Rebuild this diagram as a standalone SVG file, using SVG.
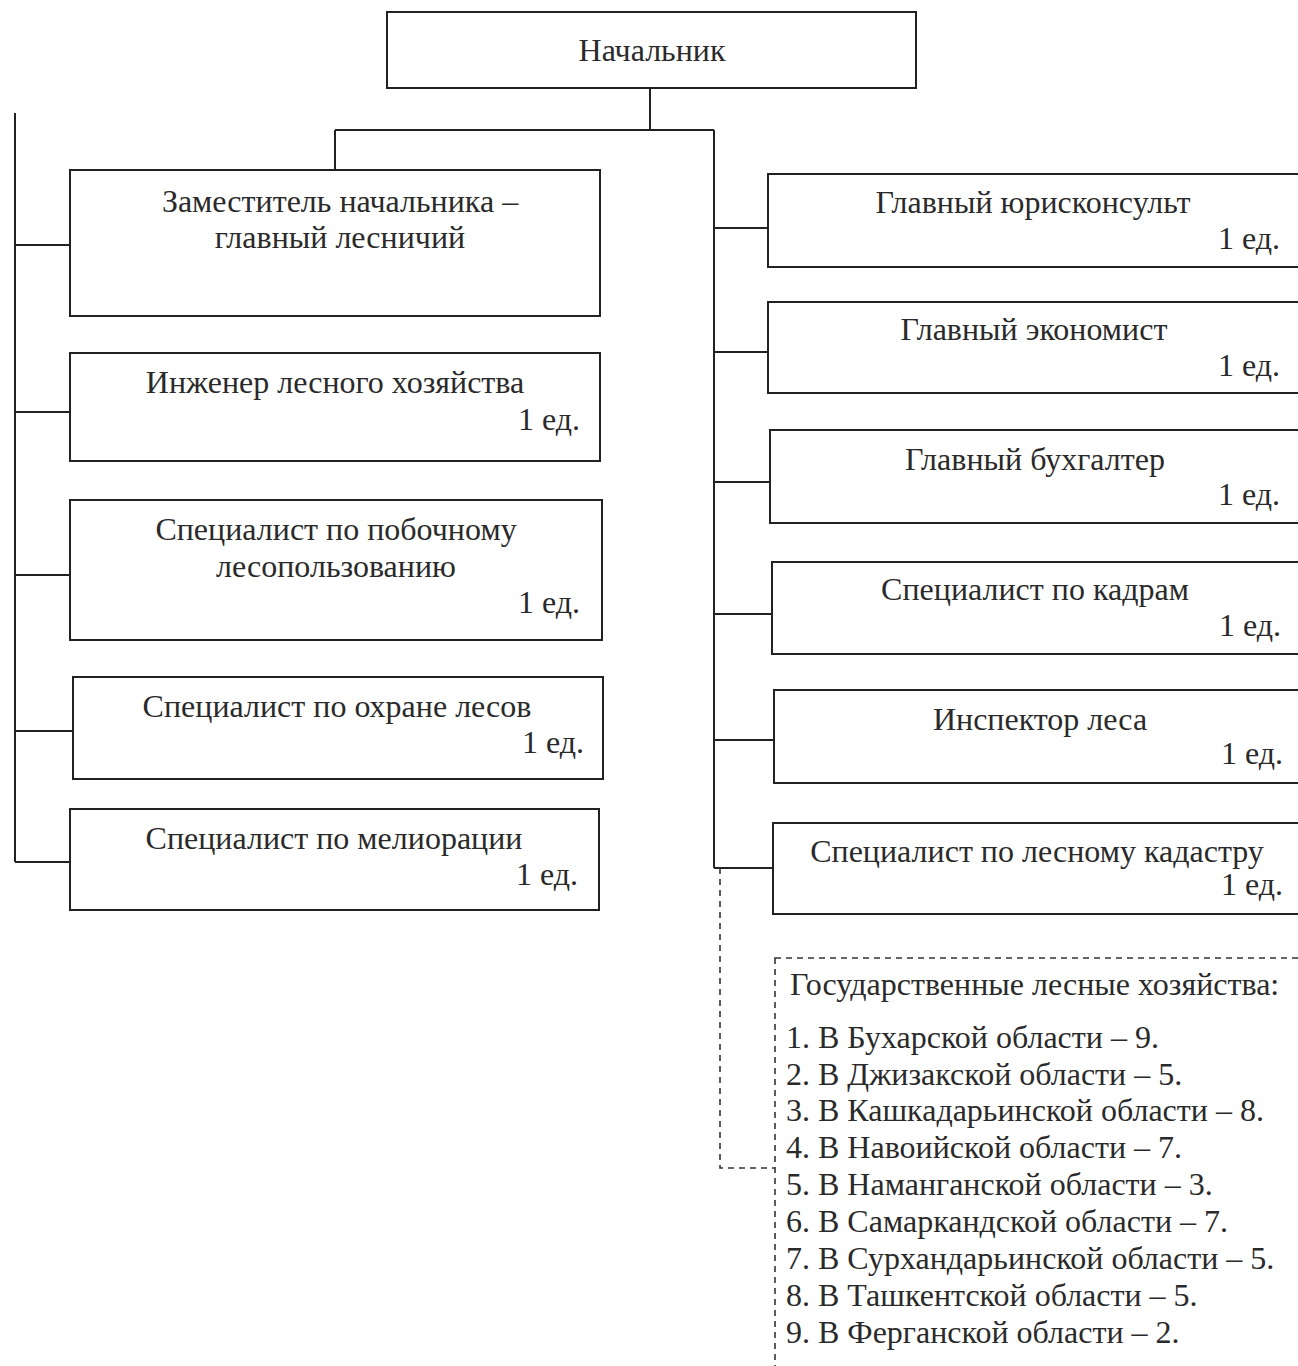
<svg xmlns="http://www.w3.org/2000/svg" width="1298" height="1366" viewBox="0 0 1298 1366">
<style>
.box{fill:#fff;stroke:#222;stroke-width:2}
.dbox{fill:none;stroke:#333;stroke-width:1.6;stroke-dasharray:6,5}
.ln{fill:none;stroke:#222;stroke-width:2}
.dl{fill:none;stroke:#333;stroke-width:1.6;stroke-dasharray:6,5}
text{font-family:"Liberation Serif","Times New Roman",serif;font-size:32px;fill:#2a2a2a}
.c{text-anchor:middle}
.r{text-anchor:end}
</style>
<rect width="1298" height="1366" fill="#fff"/>
<g id="connectors">
<path class="ln" d="M650 88V130M335 130H714M335 130V170M714 130V868"/>
<path class="ln" d="M15 113V862M15 245H70M15 412H70M15 575H70M15 731H73M15 862H70"/>
<path class="ln" d="M714 228H768M714 352H768M714 482H770M714 614H772M714 740H774M714 868H773"/>
<path class="dl" d="M720 868V1168H775"/>
</g>
<g id="n-boss"><rect class="box" x="387" y="12" width="529" height="76"/><text class="c" x="652" y="61">Начальник</text></g>
<g id="n-deputy"><rect class="box" x="70" y="170" width="530" height="146"/><text class="c" x="340" y="212">Заместитель начальника –</text><text class="c" x="340" y="248">главный лесничий</text></g>
<g id="n-engineer"><rect class="box" x="70" y="353" width="530" height="108"/><text class="c" x="335" y="393">Инженер лесного хозяйства</text><text class="r" x="580" y="430">1 ед.</text></g>
<g id="n-side"><rect class="box" x="70" y="500" width="532" height="140"/><text class="c" x="336" y="540">Специалист по побочному</text><text class="c" x="336" y="577">лесопользованию</text><text class="r" x="580" y="613">1 ед.</text></g>
<g id="n-protect"><rect class="box" x="73" y="677" width="530" height="102"/><text class="c" x="337" y="717">Специалист по охране лесов</text><text class="r" x="584" y="753">1 ед.</text></g>
<g id="n-melio"><rect class="box" x="70" y="809" width="529" height="101"/><text class="c" x="334" y="849">Специалист по мелиорации</text><text class="r" x="578" y="885">1 ед.</text></g>
<g id="n-jur"><rect class="box" x="768" y="174" width="540" height="93"/><text class="c" x="1033" y="213">Главный юрисконсульт</text><text class="r" x="1280" y="249">1 ед.</text></g>
<g id="n-econ"><rect class="box" x="768" y="302" width="540" height="91"/><text class="c" x="1034" y="340">Главный экономист</text><text class="r" x="1280" y="376">1 ед.</text></g>
<g id="n-acc"><rect class="box" x="770" y="430" width="538" height="93"/><text class="c" x="1035" y="470">Главный бухгалтер</text><text class="r" x="1280" y="505">1 ед.</text></g>
<g id="n-hr"><rect class="box" x="772" y="562" width="536" height="92"/><text class="c" x="1035" y="600">Специалист по кадрам</text><text class="r" x="1281" y="636">1 ед.</text></g>
<g id="n-insp"><rect class="box" x="774" y="690" width="534" height="93"/><text class="c" x="1040" y="730">Инспектор леса</text><text class="r" x="1283" y="764">1 ед.</text></g>
<g id="n-cad"><rect class="box" x="773" y="823" width="535" height="91"/><text class="c" x="1037" y="862">Специалист по лесному кадастру</text><text class="r" x="1283" y="895">1 ед.</text></g>
<g id="n-state"><rect class="dbox" x="775" y="958" width="540" height="420"/>
<text x="790" y="995">Государственные лесные хозяйства:</text>
<text x="786" y="1048">1. В Бухарской области – 9.</text>
<text x="786" y="1085">2. В Джизакской области – 5.</text>
<text x="786" y="1121">3. В Кашкадарьинской области – 8.</text>
<text x="786" y="1158">4. В Навоийской области – 7.</text>
<text x="786" y="1195">5. В Наманганской области – 3.</text>
<text x="786" y="1232">6. В Самаркандской области – 7.</text>
<text x="786" y="1269">7. В Сурхандарьинской области – 5.</text>
<text x="786" y="1306">8. В Ташкентской области – 5.</text>
<text x="786" y="1343">9. В Ферганской области – 2.</text>
</g>
</svg>
